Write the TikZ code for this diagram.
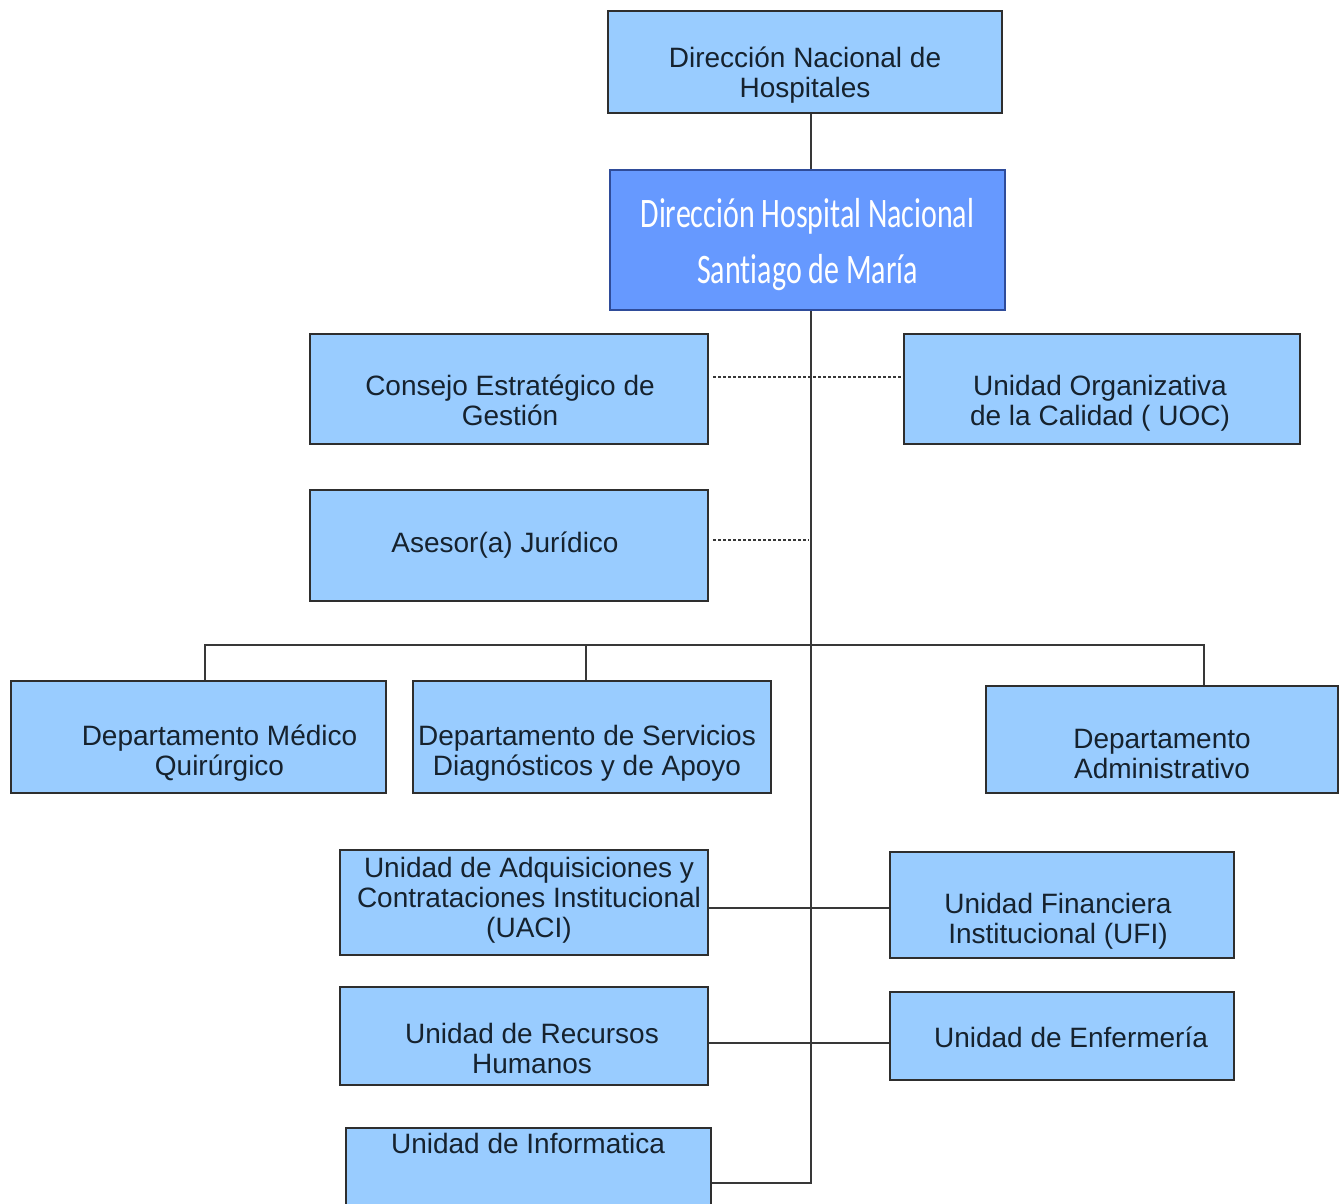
\documentclass[tikz,border=0pt]{standalone}
\usepackage{fontspec}
\usepackage{graphicx}
\setmainfont{Liberation Sans}
\newfontfamily\carl[Ligatures=NoCommon]{Carlito}
\definecolor{lightbox}{HTML}{99CCFF}
\definecolor{darkbox}{HTML}{6699FF}
\definecolor{boxline}{HTML}{2E2E2E}
\definecolor{darkline}{HTML}{2F4C9A}
\definecolor{conn}{HTML}{383838}
\definecolor{txt}{HTML}{16222E}
\newcommand\ft{\rule{0pt}{27pt}}
\lineskiplimit=-100pt
\begin{document}
\begin{tikzpicture}[x=1pt,y=1pt,
  box/.style={draw=boxline, fill=lightbox, line width=2pt, inner sep=0pt},
  dbox/.style={draw=darkline, fill=darkbox, line width=2pt, inner sep=0pt},
  lbl/.style={anchor=north, inner sep=0pt, align=center, text=txt,
    font=\fontsize{28}{30}\selectfont},
  link/.style={draw=conn, line width=2.8pt},
  dots/.style={draw=conn, line width=2pt, dash pattern=on 2.5pt off 2.5pt}]
\useasboundingbox (0,0) rectangle (1340,-1203);
\clip (0,0) rectangle (1340,-1203);
\fill[white] (0,0) rectangle (1340,-1203);

% helper coordinates
\coordinate (sp) at (811,0);
\coordinate (ci) at (811,-1183);
\coordinate (aj) at (809,-540);
\coordinate (cu) at (811,-908);
\coordinate (cr) at (811,-1043);
\coordinate (dm) at (205,-645);
\coordinate (ds) at (586,-645);
\coordinate (da) at (1204,-645);

% boxes
\node[box, minimum width=394pt, minimum height=102pt] (dnh) at (805,-62) {};
\node[dbox, minimum width=395pt, minimum height=140pt] (dhn) at (807.5,-240) {};
\node[box, minimum width=398pt, minimum height=110pt] (ceg) at (509,-389) {};
\node[box, minimum width=396pt, minimum height=110pt] (uoc) at (1102,-389) {};
\node[box, minimum width=398pt, minimum height=111pt] (ase) at (509,-545.5) {};
\node[box, minimum width=375pt, minimum height=112pt] (med) at (198.5,-737) {};
\node[box, minimum width=358pt, minimum height=112pt] (srv) at (592,-737) {};
\node[box, minimum width=352pt, minimum height=107pt] (adm) at (1162,-739.5) {};
\node[box, minimum width=368pt, minimum height=105pt] (uaci) at (524,-902.5) {};
\node[box, minimum width=344pt, minimum height=106pt] (ufi) at (1062,-905) {};
\node[box, minimum width=368pt, minimum height=98pt] (rrhh) at (524,-1036) {};
\node[box, minimum width=344pt, minimum height=88pt] (enf) at (1062,-1036) {};
\node[box, minimum width=365pt, minimum height=132pt] (inf) at (528.5,-1194) {};

% texts
\node[lbl] (dnht) at (805,-40) {\ft Dirección Nacional de\\Hospitales};
\node[anchor=north, inner sep=0pt, text=white] (dhnt) at (807.5,-187.8)
  {\scalebox{1}[1.4]{\parbox{380pt}{\centering\carl\fontsize{30}{40}\selectfont\rule{0pt}{28pt}Dirección Hospital Nacional\\Santiago de María}}};
\node[lbl] (cegt) at (510,-368) {\ft Consejo Estratégico de\\Gestión};
\node[lbl] (uoct) at (1100,-368) {\ft Unidad Organizativa\\de la Calidad ( UOC)};
\node[lbl] (aset) at (505,-525) {\ft Asesor(a) Jurídico};
\node[lbl] (medt) at (219.5,-718) {\ft Departamento Médico\\Quirúrgico};
\node[lbl] (srvt) at (587,-718) {\ft Departamento de Servicios\\Diagnósticos y de Apoyo};
\node[lbl] (admt) at (1162,-721) {\ft Departamento\\Administrativo};
\node[lbl] (uacit) at (529,-850) {\ft Unidad de Adquisiciones y\\Contrataciones Institucional\\(UACI)};
\node[lbl] (ufit) at (1058,-886) {\ft Unidad Financiera\\Institucional (UFI)};
\node[lbl] (rrhht) at (532,-1016) {\ft Unidad de Recursos\\Humanos};
\node[lbl] (enft) at (1071,-1020) {\ft Unidad de Enfermería};
\node[lbl] (inft) at (528,-1126) {\ft Unidad de Informatica};

% connectors
\draw[link] (dnh.south -| sp) -- (dhn.north -| sp);
\draw[link] (dhn.south -| sp) -- (ci) -- (inf.east |- ci);
\draw[link] (dm |- med.north) -- (dm) -- (da) -- (da |- adm.north);
\draw[link] (ds) -- (ds |- srv.north);
\draw[link] (uaci.east |- cu) -- (ufi.west |- cu);
\draw[link] (rrhh.east |- cr) -- (enf.west |- cr);
\draw[dots] ([xshift=4pt,yshift=12pt]ceg.east) -- ([yshift=12pt]uoc.west);
\draw[dots] ([xshift=4pt,yshift=5.5pt]ase.east) -- (aj);
\end{tikzpicture}
\end{document}
